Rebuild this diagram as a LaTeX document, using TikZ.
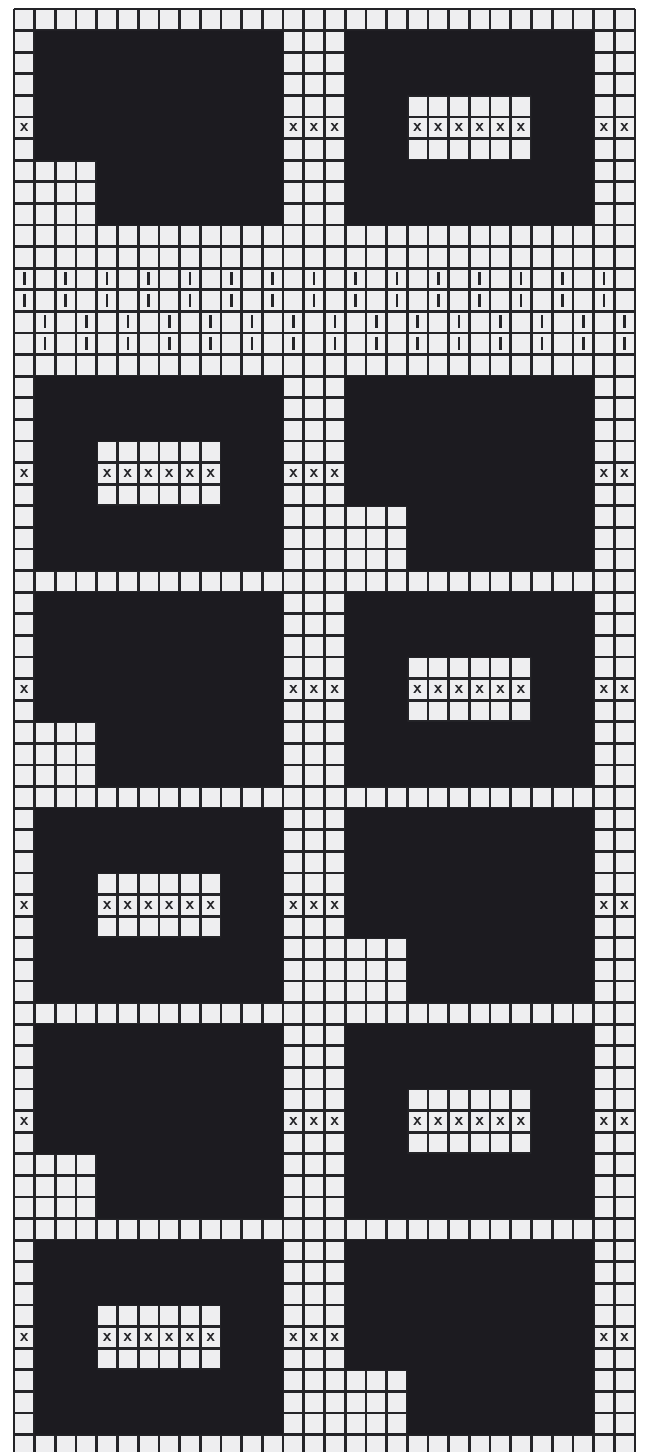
\documentclass[tikz,border=0pt]{standalone}
\usepackage{tikz}

\begin{document}
\begin{tikzpicture}[x=0.207cm,y=-0.216cm]

% Chart colours
\definecolor{chartink}{RGB}{28,27,32}
\definecolor{chartline}{RGB}{36,36,40}
\definecolor{chartcell}{RGB}{238,238,240}

\tikzset{
  stitchx/.style={font=\sffamily\bfseries\fontsize{5}{5}\selectfont, text=chartline, inner sep=0pt},
  slipmark/.style={chartline, line width=0.75pt},
}

% Page and paper
\clip (-0.676,-0.417) rectangle (30.58,66.806);
\fill[white] (-0.676,-0.417) rectangle (30.58,66.806);
\fill[chartcell] (0,0) rectangle (30,67);

% Grid lines
\begin{scope}[chartline, line width=0.75pt]
\foreach \y in {0,...,67} {
  \draw (0,\y) -- (30,\y);
}
\foreach \x in {0,...,30} {
  \draw (\x,0) -- (\x,67);
}
\end{scope}

% Slip stitch band
\foreach \c in {0,2,...,28} {
  \foreach \r in {12,13} {
    \draw[slipmark] (\c+0.5,\r+0.18) -- (\c+0.5,\r+0.78);
  }
}
\foreach \c in {1,3,...,29} {
  \foreach \r in {14,15} {
    \draw[slipmark] (\c+0.5,\r+0.18) -- (\c+0.5,\r+0.78);
  }
}

% Motif blocks: first row / notched block offset / framed block offset
\foreach \r/\n/\h in {1/0/15,17/15/0,27/0/15,37/15/0,47/0/15,57/15/0} {
  \fill[chartink] (\n+1,\r) -- (\n+13,\r) -- (\n+13,\r+9) -- (\n+4,\r+9)
    -- (\n+4,\r+6) -- (\n+1,\r+6) -- cycle;
  \fill[chartink, even odd rule] (\h+1,\r) rectangle (\h+13,\r+9)
    (\h+4,\r+3) rectangle (\h+10,\r+6);
  % purl stitches
  \foreach \c in {0,13,14,15,28,29} {
    \node[stitchx] (edge-\r-\c) at (\c+0.5,\r+4.5) {x};
  }
  \foreach \c in {4,...,9} {
    \node[stitchx] (hole-\r-\c) at (\h+\c+0.5,\r+4.5) {x};
  }
}

\end{tikzpicture}
\end{document}
